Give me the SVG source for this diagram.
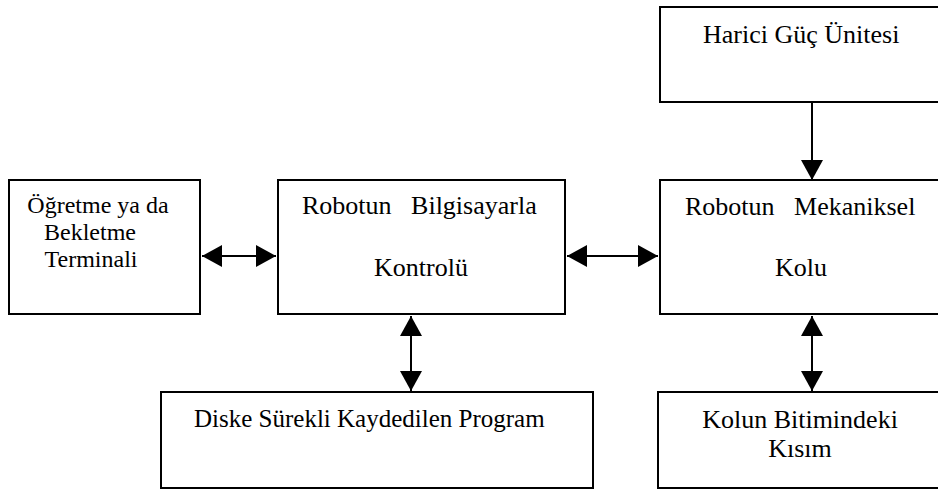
<svg xmlns="http://www.w3.org/2000/svg" width="938" height="490" viewBox="0 0 938 490">
<defs>
<style>
.box{fill:#fff;stroke:#000;stroke-width:2}
.t{font-family:"Liberation Serif","DejaVu Serif","Times New Roman",serif;font-size:26px;fill:#000;text-anchor:middle}
.s{font-size:24px}
.m{font-size:25px}
.l{text-anchor:start}
.c{stroke:#000;stroke-width:2;fill:none}
</style>
<marker id="ah" markerUnits="userSpaceOnUse" markerWidth="22" markerHeight="22" refX="20" refY="11" orient="auto-start-reverse" viewBox="0 0 22 22">
<path d="M0,0 L20,11 L0,22 Z" fill="#000"/>
</marker>
</defs>
<rect width="938" height="490" fill="#fff"/>
<g id="terminal">
<rect class="box" x="9" y="180" width="191" height="134"/>
<text class="t s" x="98" y="213">Öğretme ya da</text>
<text class="t s" x="90" y="240">Bekletme</text>
<text class="t s" x="91" y="267">Terminali</text>
</g>
<g id="kontrol">
<rect class="box" x="278" y="180" width="287" height="134"/>
<text class="t l" x="302" y="214" xml:space="preserve">Robotun   Bilgisayarla</text>
<text class="t" x="421" y="276">Kontrolü</text>
</g>
<g id="guc">
<rect class="box" x="660" y="7" width="290" height="95"/>
<text class="t l" x="703" y="43">Harici Güç Ünitesi</text>
</g>
<g id="kol">
<rect class="box" x="660" y="180" width="290" height="134"/>
<text class="t l" x="685" y="215" xml:space="preserve">Robotun   Mekaniksel</text>
<text class="t" x="801" y="276">Kolu</text>
</g>
<g id="program">
<rect class="box" x="161" y="392" width="432" height="96"/>
<text class="t m l" x="194" y="427">Diske Sürekli Kaydedilen Program</text>
</g>
<g id="uc">
<rect class="box" x="658" y="392" width="292" height="96"/>
<text class="t" x="800" y="428">Kolun Bitimindeki</text>
<text class="t" x="800" y="457">Kısım</text>
</g>
<g id="connectors">
<line class="c" x1="202" y1="256" x2="276" y2="256" marker-start="url(#ah)" marker-end="url(#ah)"/>
<line class="c" x1="567" y1="256" x2="658" y2="256" marker-start="url(#ah)" marker-end="url(#ah)"/>
<line class="c" x1="812" y1="102" x2="812" y2="180" marker-end="url(#ah)"/>
<line class="c" x1="411" y1="316" x2="411" y2="391" marker-start="url(#ah)" marker-end="url(#ah)"/>
<line class="c" x1="812" y1="316" x2="812" y2="391" marker-start="url(#ah)" marker-end="url(#ah)"/>
</g>
</svg>
